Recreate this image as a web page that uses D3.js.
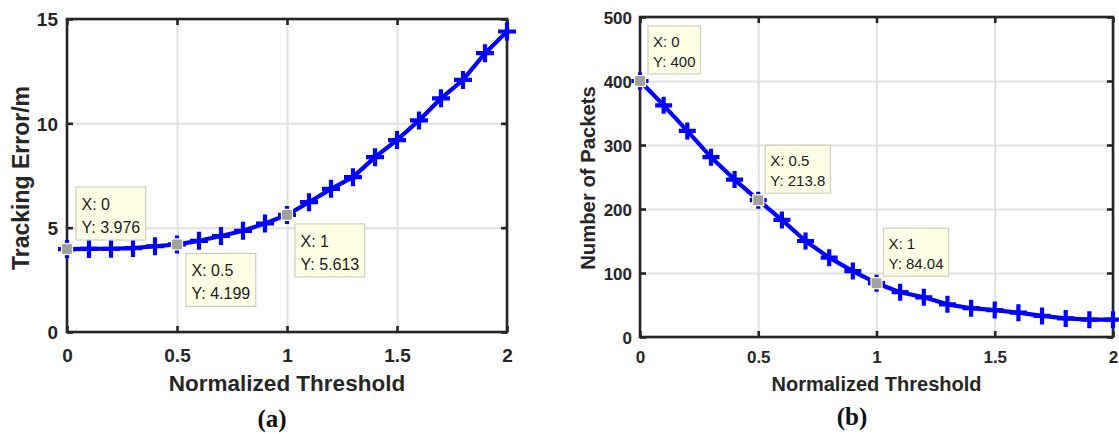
<!DOCTYPE html>
<html><head><meta charset="utf-8">
<script src="https://cdn.jsdelivr.net/npm/d3@7"></script>
<style>body{margin:0;background:#fff} svg{display:block}</style>
</head><body><svg id="c" width="1119" height="434"></svg>
<script>
// ---------- data ----------
const thresholds    = [0,0.1,0.2,0.3,0.4,0.5,0.6,0.7,0.8,0.9,1.0,1.1,1.2,1.3,1.4,1.5,1.6,1.7,1.8,1.9,2.0];
const trackingError = [3.976,3.98,3.99,4.02,4.11,4.199,4.37,4.6,4.85,5.2,5.613,6.22,6.86,7.42,8.38,9.2,10.14,11.2,12.08,13.36,14.4];
const packets       = [400,362,322,281,246,213.8,183,150,124,103,84.04,70,62,51,45,42,38,33,29,27,27];
const xTicks   = [0,0.5,1,1.5,2];
const errTicks = [0,5,10,15];
const pktTicks = [0,100,200,300,400,500];
const errTipX = [0,0.5,1];
const errTipY = ["3.976","4.199","5.613"];
const pktTipX = [0,0.5,1];
const pktTipY = ["400","213.8","84.04"];
const xLabel = "Normalized Threshold";
const errLabel = "Tracking Error/m";
const pktLabel = "Number of Packets";

// ---------- drawing ----------
const svg = d3.select("#c");
const AX = "#262626";
const SANS = "'Liberation Sans', Arial, Helvetica, sans-serif";

function panel(cfg){
  const x = d3.scaleLinear().domain([0,2]).range([cfg.left,cfg.right]);
  const y = d3.scaleLinear().domain(cfg.yDomain).range([cfg.bottom,cfg.top]);
  const H = cfg.bottom-cfg.top, W = cfg.right-cfg.left;
  const g = svg.append("g");

  // grid
  const gx = g.append("g").attr("transform",`translate(0,${cfg.bottom})`)
    .call(d3.axisBottom(x).tickValues(xTicks).tickSize(-H).tickFormat(""));
  const gy = g.append("g").attr("transform",`translate(${cfg.left},0)`)
    .call(d3.axisLeft(y).tickValues(cfg.yTicks).tickSize(-W).tickFormat(""));
  [gx,gy].forEach(s=>{s.select(".domain").remove();
    s.selectAll("line").attr("stroke","#e0e0e0").attr("stroke-width",2);});

  // box
  g.append("rect").attr("x",cfg.left).attr("y",cfg.top).attr("width",W).attr("height",H)
    .attr("fill","none").attr("stroke",AX).attr("stroke-width",2.6);

  // ticks + labels
  const ax = g.append("g").attr("transform",`translate(0,${cfg.bottom})`)
    .call(d3.axisBottom(x).tickValues(xTicks).tickSizeInner(-6).tickSizeOuter(0).tickFormat(d3.format("")));
  const ay = g.append("g").attr("transform",`translate(${cfg.left},0)`)
    .call(d3.axisLeft(y).tickValues(cfg.yTicks).tickSizeInner(-6).tickSizeOuter(0).tickFormat(d3.format("")));
  const at = g.append("g").attr("transform",`translate(0,${cfg.top})`)
    .call(d3.axisTop(x).tickValues(xTicks).tickSizeInner(-6).tickSizeOuter(0).tickFormat(""));
  const ar = g.append("g").attr("transform",`translate(${cfg.right},0)`)
    .call(d3.axisRight(y).tickValues(cfg.yTicks).tickSizeInner(-6).tickSizeOuter(0).tickFormat(""));
  [ax,ay,at,ar].forEach(s=>{s.select(".domain").remove();
    s.selectAll("line").attr("stroke",AX).attr("stroke-width",2.6);});
  ax.selectAll("text").attr("y",cfg.xTickBase).attr("dy",0)
    .attr("font-family",SANS).attr("font-weight","bold").attr("font-size",cfg.tickFs).attr("fill",AX);
  ay.selectAll("text").attr("x",-cfg.yTickGap).attr("dy","0.36em")
    .attr("font-family",SANS).attr("font-weight","bold").attr("font-size",cfg.tickFs).attr("fill",AX);

  // axis labels
  g.append("text").attr("x",(cfg.left+cfg.right)/2).attr("y",cfg.xLabBase)
    .attr("text-anchor","middle").attr("font-family",SANS).attr("font-weight","bold")
    .attr("font-size",cfg.labFs).attr("fill",AX).text(xLabel);
  g.append("text").attr("transform",`translate(${cfg.yLabBase},${cfg.yLabMid}) rotate(-90)`)
    .attr("text-anchor","middle").attr("font-family",SANS).attr("font-weight","bold")
    .attr("font-size",cfg.yLabFs).attr("fill",AX).text(cfg.yLabel);

  // data line + markers
  const pts = thresholds.map((t,i)=>[t,cfg.values[i]]);
  g.append("path").datum(pts)
    .attr("d",d3.line().x(d=>x(d[0])).y(d=>y(d[1])))
    .attr("fill","none").attr("stroke","#0000ff").attr("stroke-width",4.2).attr("stroke-linejoin","round");
  g.selectAll(null).data(pts).join("path")
    .attr("transform",d=>`translate(${x(d[0])},${y(d[1])})`)
    .attr("d",`M-${cfg.mk},0H${cfg.mk}M0,-${cfg.mk}V${cfg.mk}`).attr("stroke","#0000ff").attr("stroke-width",4.2).attr("fill","none");

  // data tips
  cfg.tipX.forEach((tx,i)=>{
    const idx = thresholds.indexOf(tx);
    const px = x(tx), py = y(cfg.values[idx]);
    const o = cfg.tipOff[i];
    const bx = px + o[0], by = py + o[1];
    const tg = g.append("g");
    const rect = tg.append("rect").attr("x",bx).attr("y",by).attr("height",cfg.tipH)
      .attr("fill","#ffffe6").attr("stroke","#cfcfc0").attr("stroke-width",1.2);
    const t1 = tg.append("text").attr("x",bx+cfg.tipPad).attr("y",by+cfg.tipL1)
      .attr("font-family",SANS).attr("font-size",cfg.tipFs).attr("fill","#1a1a1a").text("X: "+tx);
    const t2 = tg.append("text").attr("x",bx+cfg.tipPad).attr("y",by+cfg.tipL2)
      .attr("font-family",SANS).attr("font-size",cfg.tipFs).attr("fill","#1a1a1a").text("Y: "+cfg.tipY[i]);
    const w = Math.max(t1.node().getComputedTextLength(),t2.node().getComputedTextLength())+2*cfg.tipPad;
    rect.attr("width",w);
    g.append("rect").attr("x",px-5.5).attr("y",py-5.5).attr("width",11).attr("height",11)
      .attr("fill","#a0a0a0").attr("stroke","#ffffdd").attr("stroke-width",1.2);
  });

  // caption
  svg.append("text").attr("x",cfg.capX).attr("y",cfg.capY).attr("text-anchor","middle")
    .attr("font-family","'Liberation Serif','Times New Roman',serif").attr("font-weight","bold")
    .attr("font-size",25).attr("fill","#111").text(cfg.cap);
}

panel({left:67,right:507,top:19,bottom:332,yDomain:[0,15],yTicks:errTicks,values:trackingError,mk:9,
  tickFs:19,labFs:22.5,yLabFs:23,xTickBase:30,yTickGap:9,xLabBase:391,yLabBase:29,yLabMid:178,yLabel:errLabel,
  tipX:errTipX,tipY:errTipY,tipOff:[[9,-62],[9,9],[8,9]],tipFs:16,tipPad:5.5,tipL1:23,tipL2:46,tipH:53,
  cap:"(a)",capX:272,capY:427});
panel({left:640,right:1113,top:17,bottom:337,yDomain:[0,500],yTicks:pktTicks,values:packets,mk:8.5,
  tickFs:17,labFs:20,yLabFs:20.3,xTickBase:26,yTickGap:8,xLabBase:391,yLabBase:595,yLabMid:178,yLabel:pktLabel,
  tipX:pktTipX,tipY:pktTipY,tipOff:[[8,-55],[7,-55],[7,-55]],tipFs:15,tipPad:5,tipL1:20.5,tipL2:40.5,tipH:48,
  cap:"(b)",capX:852,capY:425});
</script></body></html>
